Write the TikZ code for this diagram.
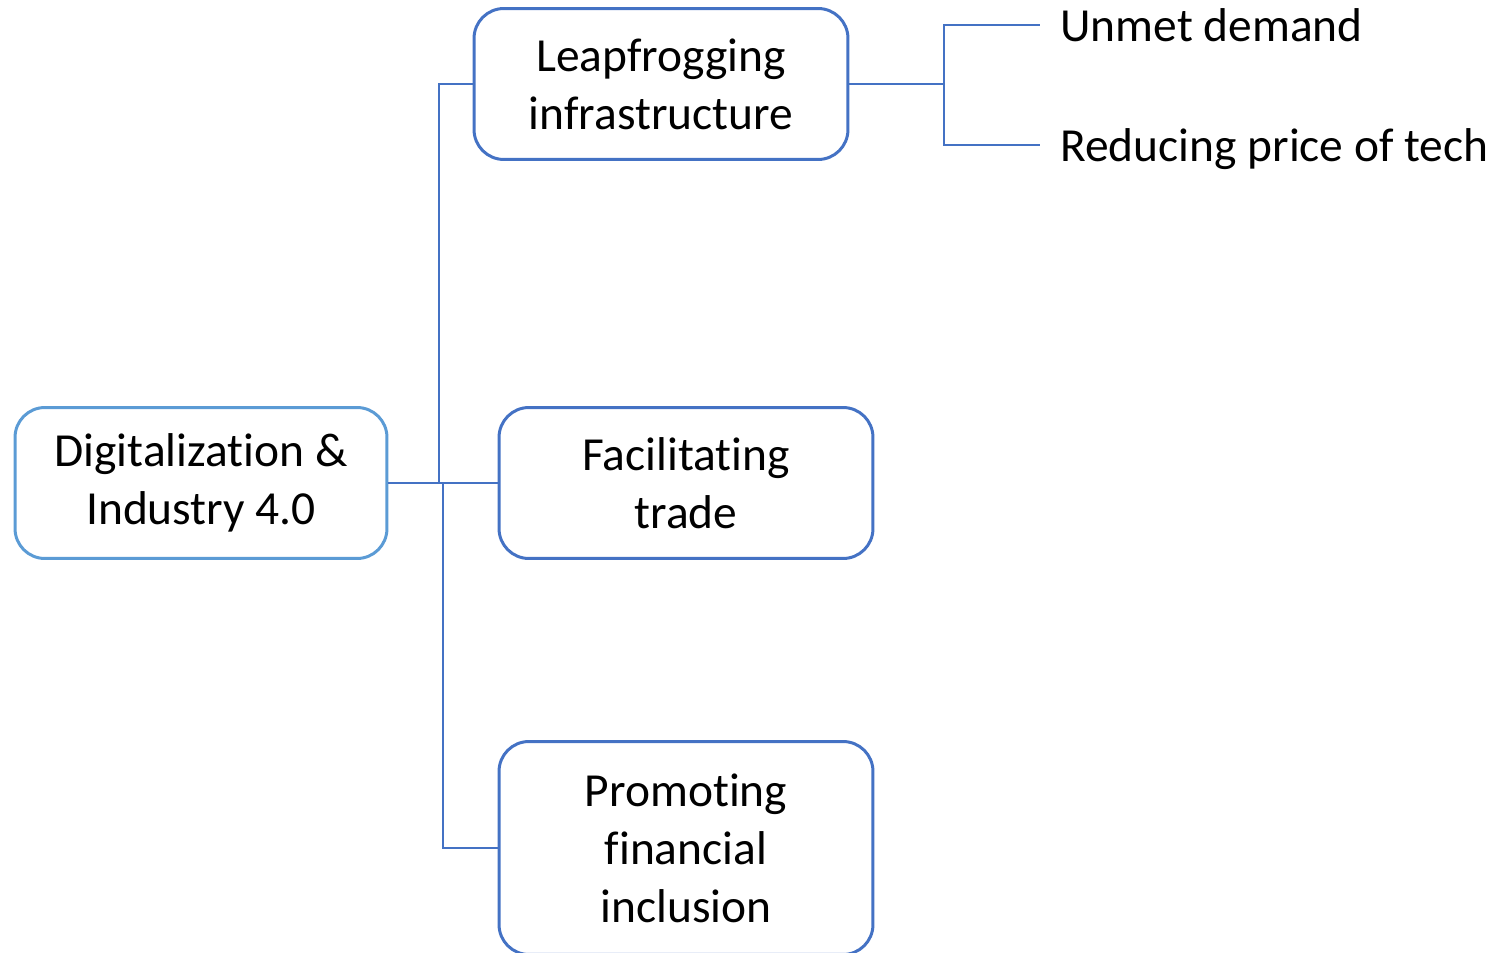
\documentclass[tikz,border=0pt]{standalone}
\usepackage{fontspec}
\setmainfont{Carlito}[Ligatures={NoCommon}]
\usetikzlibrary{positioning}
\definecolor{boxblue}{HTML}{4472C4}
\definecolor{rootblue}{HTML}{5B9BD5}

\begin{document}
\begin{tikzpicture}[x=0.02cm,y=-0.02cm,
  box/.style={draw=boxblue,line width=1.7pt,rounded corners=17pt,align=center,
    minimum width=7.48cm,minimum height=3.02cm,inner sep=0pt,
    font=\fontsize{27}{33}\selectfont},
  leaf/.style={anchor=west,inner xsep=0.4cm,inner ysep=0pt,text height=23pt,text depth=3.8pt,
    font=\fontsize{27}{33}\selectfont},
  link/.style={draw=boxblue,line width=0.85pt}]
\useasboundingbox (0,0) rectangle (1501,953);

\node[box,draw=rootblue,minimum width=7.44cm] (root) at (201,483) {Digitalization \&\\Industry 4.0};
\node[box] (leap) at (661,84) {Leapfrogging\\infrastructure};
\node[box] (trade) at (686,483) {Facilitating\\trade};
\node[box,minimum height=4.26cm] (fin) at (686,848) {Promoting\\financial\\inclusion};

\node[leaf] (unmet) at (1040,25) {Unmet demand};
\node[leaf] (price) at (1040,145) {Reducing price of tech};

% trunks out of the root box
\coordinate (up) at (439,483);
\coordinate (down) at (443,483);
\coordinate (fork) at (944,84);

\path[link] (root.east) -- (trade.west)
            (up) |- (leap.west)
            (down) |- (fin.west)
            (leap.east) -- (fork)
            (fork) |- (unmet.west)
            (fork) |- (price.west);
\end{tikzpicture}
\end{document}
